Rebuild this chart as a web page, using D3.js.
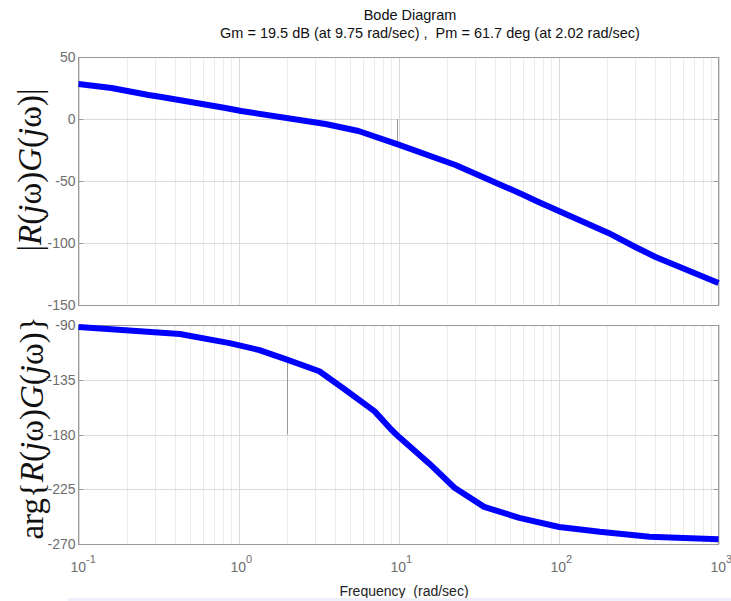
<!DOCTYPE html>
<html>
<head>
<meta charset="utf-8">
<script src="https://cdn.jsdelivr.net/npm/d3@7"></script>
<style>
  body { margin: 0; background: #fff; }
  svg { display: block; font-family: "Liberation Sans", Arial, sans-serif; }
  .grid-minor { stroke: #ececec; stroke-width: 1; }
  .grid-major { stroke: #dadada; stroke-width: 1; }
  .tick-label { fill: #6e6e6e; font-size: 14px; }
  .box { fill: none; stroke: #9a9a9a; stroke-width: 1; }
  .curve { fill: none; stroke: #0000ff; stroke-width: 6; stroke-linejoin: round; stroke-linecap: butt; }
  .margin-line { stroke: #9a9a9a; stroke-width: 1; }
  .big-label { font-family: "Liberation Serif", "DejaVu Serif", serif; font-size: 33px; fill: #111; }
  .pre { white-space: pre; }
</style>
</head>
<body>
<div id="chart"></div>
<script>
// data
var magFreq = [0.1, 0.161, 0.274, 0.33, 0.83, 1.04, 3.5, 5.62, 10, 22.7, 46.6, 58.7, 75, 205, 302, 404, 1000];
var magDb   = [28.2, 25.0, 19.4, 17.7, 8.9, 6.5, -4.0, -9.7, -20.6, -37.1, -54.8, -60.5, -66.9, -91.9, -103.2, -111.3, -132.3];

var phaseFreq = [0.1, 0.43, 0.88, 1.35, 1.97, 3.2, 4.6, 7.1, 9.0, 10, 15.6, 22.4, 34.3, 56.9, 101, 181, 371, 1000];
var phaseDeg  = [-91.7, -97.4, -104.9, -110.6, -118, -128, -142.8, -161, -175.9, -181.7, -204, -223.8, -239.5, -248.5, -256, -260, -264, -266];

var magTicks = [50, 0, -50, -100, -150];
var phaseTicks = [-90, -135, -180, -225, -270];
var decadeExps = [-1, 0, 1, 2, 3];

var gainMargin = {freq: 9.75, from: 0, to: -19.5};
var phaseMargin = {freq: 2.02, from: -118.3, to: -180};

var titleLines = ["Bode Diagram", "Gm = 19.5 dB (at 9.75 rad/sec) ,  Pm = 61.7 deg (at 2.02 rad/sec)"];

// layout
var W = 731, H = 601;
var plotLeft = 78.5, plotRight = 718.5;
var magTop = 57, magBottom = 305;
var phTop = 325, phBottom = 544;

var svg = d3.select("#chart")
  .append("svg")
  .attr("width", W)
  .attr("height", H);

var x = d3.scaleLog()
  .domain([0.1, 1000])
  .range([plotLeft, plotRight]);

var yMag = d3.scaleLinear()
  .domain([-150, 50])
  .range([magBottom, magTop]);

var yPh = d3.scaleLinear()
  .domain([-270, -90])
  .range([phBottom, phTop]);

// minor and major log grid
var minorVals = [];
decadeExps.slice(0, -1).forEach(function(e){
  for (var m = 2; m <= 9; m++) minorVals.push(m * Math.pow(10, e));
});
var majorVals = decadeExps.map(function(e){ return Math.pow(10, e); });

function drawPanel(y, ticks, top, bottom){
  var g = svg.append("g");
  g.selectAll(".grid-minor")
    .data(minorVals)
    .enter().append("line")
      .attr("class", "grid-minor")
      .attr("x1", function(d){ return Math.round(x(d)) + 0.5; })
      .attr("x2", function(d){ return Math.round(x(d)) + 0.5; })
      .attr("y1", top)
      .attr("y2", bottom);
  g.selectAll(".grid-major")
    .data(majorVals)
    .enter().append("line")
      .attr("class", "grid-major")
      .attr("x1", function(d){ return Math.round(x(d)) + 0.5; })
      .attr("x2", function(d){ return Math.round(x(d)) + 0.5; })
      .attr("y1", top)
      .attr("y2", bottom);
  g.selectAll(".grid-h")
    .data(ticks)
    .enter().append("line")
      .attr("class", "grid-major")
      .attr("x1", plotLeft)
      .attr("x2", plotRight)
      .attr("y1", function(d){ return Math.round(y(d)) + 0.5; })
      .attr("y2", function(d){ return Math.round(y(d)) + 0.5; });

  // y tick labels
  g.selectAll(".tick-label")
    .data(ticks)
    .enter().append("text")
      .attr("class", "tick-label")
      .attr("x", plotLeft - 3)
      .attr("y", function(d){ return y(d) + 5; })
      .attr("text-anchor", "end")
      .text(function(d){ return d; });

  // small ticks on left and right edges
  g.selectAll(".ytick")
    .data(ticks)
    .enter().append("path")
      .attr("stroke", "#9a9a9a")
      .attr("d", function(d){
        var yy = Math.round(y(d)) + 0.5;
        return "M" + plotLeft + "," + yy + "h5M" + plotRight + "," + yy + "h-5";
      });

  g.append("rect")
    .attr("class", "box")
    .attr("x", plotLeft)
    .attr("y", top + 0.5)
    .attr("width", plotRight - plotLeft)
    .attr("height", bottom - top);
  return g;
}

var magPanel = drawPanel(yMag, magTicks, magTop, magBottom);
var phPanel = drawPanel(yPh, phaseTicks, phTop, phBottom);

// margin markers
magPanel.append("line")
  .attr("class", "margin-line")
  .attr("x1", Math.round(x(gainMargin.freq)) + 0.5)
  .attr("x2", Math.round(x(gainMargin.freq)) + 0.5)
  .attr("y1", yMag(gainMargin.from))
  .attr("y2", yMag(gainMargin.to));

phPanel.append("line")
  .attr("class", "margin-line")
  .attr("x1", Math.round(x(phaseMargin.freq)) + 0.5)
  .attr("x2", Math.round(x(phaseMargin.freq)) + 0.5)
  .attr("y1", yPh(phaseMargin.from))
  .attr("y2", yPh(phaseMargin.to));

// curves
var magLine = d3.line()
  .x(function(d, i){ return x(magFreq[i]); })
  .y(function(d){ return yMag(d); });
magPanel.append("path")
  .attr("class", "curve")
  .attr("d", magLine(magDb));

var phLine = d3.line()
  .x(function(d, i){ return x(phaseFreq[i]); })
  .y(function(d){ return yPh(d); });
phPanel.append("path")
  .attr("class", "curve")
  .attr("d", phLine(phaseDeg));

// x tick labels 10^n
var xl = svg.append("g");
decadeExps.forEach(function(e){
  var t = xl.append("text")
    .attr("class", "tick-label")
    .attr("x", x(Math.pow(10, e)) - 8)
    .attr("y", 572);
  t.append("tspan").text("10");
  t.append("tspan")
    .attr("dy", -9)
    .attr("font-size", "11px")
    .text(e);
});

svg.append("text")
  .attr("class", "pre")
  .attr("x", 404)
  .attr("y", 596)
  .attr("text-anchor", "middle")
  .attr("font-size", "14px")
  .attr("fill", "#222")
  .text("Frequency  (rad/sec)");

// title
svg.selectAll(".title")
  .data(titleLines)
  .enter().append("text")
    .attr("class", "title pre")
    .attr("x", function(d, i){ return i == 0 ? 410 : 430; })
    .attr("y", function(d, i){ return 20 + i * 18; })
    .attr("text-anchor", "middle")
    .attr("font-size", "14.5px")
    .attr("fill", "#111")
    .text(function(d){ return d; });

// y axis labels (math style)
function mathLabel(cx, cy, parts){
  var t = svg.append("text")
    .attr("class", "big-label")
    .attr("text-anchor", "middle")
    .attr("transform", "translate(" + cx + "," + cy + ") rotate(-90)");
  parts.forEach(function(p){
    t.append("tspan")
      .attr("font-style", p[1] ? "italic" : "normal")
      .text(p[0]);
  });
}
var rgParts = [["R", 1], ["(", 0], ["j", 1], ["ω", 0], [")", 0], ["G", 1], ["(", 0], ["j", 1], ["ω", 0], [")", 0]];
mathLabel(41, 170, [["|", 0]].concat(rgParts, [["|", 0]]));
mathLabel(43, 428, [["arg{", 0]].concat(rgParts, [["}", 0]]));

// faint strip at the very bottom of the picture
svg.append("rect")
  .attr("x", 68)
  .attr("y", 598)
  .attr("width", W - 68)
  .attr("height", 3)
  .attr("fill", "#eef0fb");
</script>
</body>
</html>
